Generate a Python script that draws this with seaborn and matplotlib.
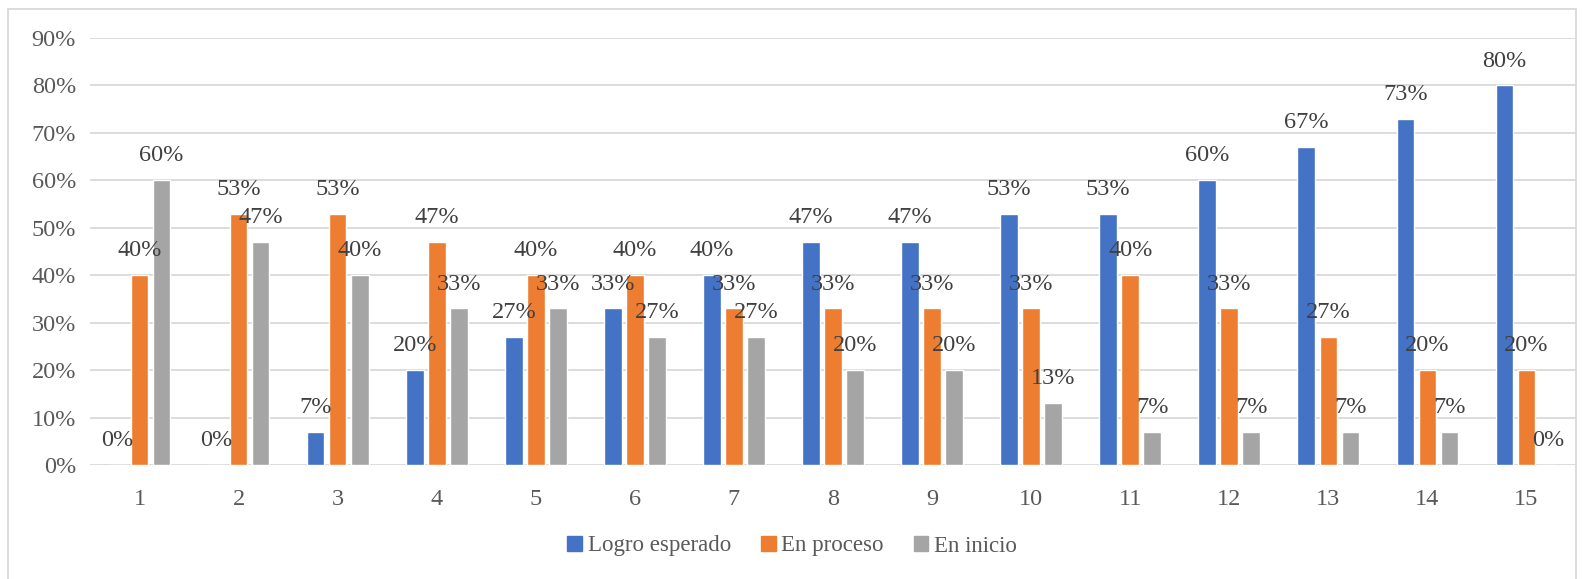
import pandas as pd
import numpy as np
import matplotlib
matplotlib.use("Agg")
import matplotlib.pyplot as plt
import seaborn as sns
from matplotlib.patches import Rectangle

# data (fractions of 15 students)
items = [str(i) for i in range(1, 16)]
logro = [0, 0, 7, 20, 27, 33, 40, 47, 47, 53, 53, 60, 67, 73, 80]
proceso = [40, 53, 53, 47, 40, 40, 33, 33, 33, 33, 40, 33, 27, 20, 20]
inicio = [60, 47, 40, 33, 33, 27, 27, 20, 20, 13, 7, 7, 7, 7, 0]
series = ["Logro esperado", "En proceso", "En inicio"]
colors = ["#4472C4", "#ED7D31", "#A5A5A5"]

df = pd.DataFrame({"item": items, series[0]: logro, series[1]: proceso, series[2]: inicio})
df = df.melt(id_vars="item", var_name="serie", value_name="pct")
df["val"] = df["pct"] / 100

sns.set_style("white")
plt.rcParams["font.family"] = ["Liberation Serif", "DejaVu Serif"]

fig = plt.figure(figsize=(15.84, 5.79), dpi=100)
ax = fig.add_axes([90 / 1584, 1 - 465 / 579, 1486 / 1584, 427 / 579])

sns.barplot(data=df, x="item", y="val", hue="serie", hue_order=series,
            palette=colors, saturation=1, width=0.667, gap=0.2, ax=ax, legend=False)

ax.set_ylim(0, 0.9)
ax.set_yticks(np.arange(0, 0.91, 0.1))
ax.set_yticklabels([f"{int(round(t * 100))}%" for t in np.arange(0, 0.91, 0.1)])
ax.set_xlim(-0.5, 14.5)
ax.grid(axis="y", color="#D9D9D9", linewidth=1.3)
ax.set_axisbelow(True)
for s in ax.spines.values():
    s.set_visible(False)
ax.set_xlabel("")
ax.set_ylabel("")
ax.tick_params(axis="both", length=0, labelsize=17.5, colors="#595959")
ax.tick_params(axis="x", pad=17)
ax.tick_params(axis="y", pad=10)

for cont in ax.containers:
    labels = [f"{int(round(b.get_height() * 100))}%" for b in cont]
    ax.bar_label(cont, labels=labels, padding=10, fontsize=17.5, color="#404040")

# legend
handles = [Rectangle((0, 0), 1, 1, color=c) for c in colors]
fig.legend(handles, series, loc="center", bbox_to_anchor=(0.5, 1 - 546 / 579), ncol=3,
           frameon=False, fontsize=16.5, handlelength=0.65, handleheight=0.65,
           handletextpad=0.25, columnspacing=1.3, labelcolor="#595959")

# chart border
fig.patches.append(Rectangle((8 / 1584, -0.01), 1568 / 1584, 1 - 9 / 579 + 0.01,
                             transform=fig.transFigure, fill=False,
                             edgecolor="#D9D9D9", linewidth=1.3))

fig.savefig("out.png", dpi=100)
